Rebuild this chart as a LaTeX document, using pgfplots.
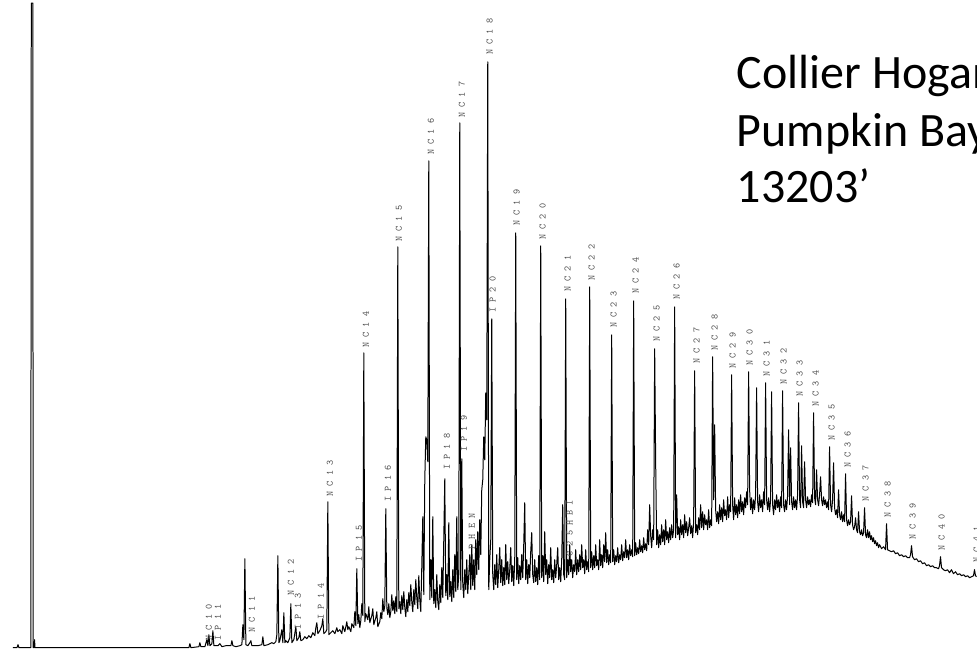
\documentclass[border=0pt]{standalone}
\usepackage{pgfplots}
\pgfplotsset{compat=1.18}
\usepackage{fontspec}
\newfontfamily\titlefont{Carlito}
\begin{document}
\begin{tikzpicture}
\path (0,0) rectangle (977pt,654pt);
\begin{axis}[
  at={(0,0)}, anchor=south west,
  scale only axis, width=977pt, height=654pt,
  xmin=0, xmax=977, ymin=0, ymax=654, y dir=reverse,
  hide axis, clip=false,
]
\addplot[black, line width=1pt, line join=round, mark=none] coordinates {
(13,648)(17,648)(18,645)(19,648)(30.8,648)(31.3,3)(32.8,3)(33.2,648)(34.2,648)(34.6,640)(35,648)(60,648)(100,648)(150,648)(185,648)(189,648)(190,644)(191,648)
(199,647)(200,643)(201,647)(205,647)(207,640)(208,646)(209,635)(210,646)(212,644)(213,631)(214,646)(218,646)(220,644)(222,647)(226,646)(231,646)(232,641)(233,646)(236,647)(240,646)(242,645)(243,625)(244,640)(245,559)(246,645)(248,646)(250,643)(251,641)(252,646)(255,646)(258,646)(262,645)(263,637)(264,646)(268,645)(270,644)(272,643)(274,644)(276,642)(277,635)(278,556)(279,643)(280,641)(282,630)(283,643)(284,613)(285,643)(286,641)(288,643)(290,638)(291,604)(292,643)(294,640)(296,627)(297,641)(299,638)(300,632)(301,641)(303,640)(305,637)(307,639)(309,636)(311,638)(313,633)(315,636)(316,628)(317,623)(318,634)(320,631)(322,626)(323,619)(324,634)(326,632)(327,630)(328,502)(329,635)(331,633)(333,631)(335,634)(337,628)(338,632)(340,630)(342,634)(343,626)(345,632)(347,622)(348,630)(349,627)(351,632)(352,624)(354,628)(355,612)(356,626)(357,569)(358,624)(359,615)(360,628)(361,621)(362,604)(363,616)(364,353)(365,622)(366,614)(368,620)(369,607)(370,623)(372,616)(373,609)(374,625)(376,618)(377,612)(378,627)(380,622)(381,613)(382,619)(383,599)(384,612)(385,606)(386,509)(387,608)(388,615)(389,604)(390,618)(391,612)(392,595)(393,611)(394,601)(395,614)(396,597)(397,612)(398,247)(399,609)(400,602)(401,614)(402,596)(403,610)(404,592)(405,608)(406,617)(407,600)(408,612)(409,593)(410,606)(411,585)(412,602)(413,612)(414,590)(415,605)(416,580)(417,598)(418,609)(419,576)(420,600)(421,612)(422,567)(423,517)(424,595)(425,480)(426,437)(427,440)(428,462)(429,161)(430,600)(431,560)(432,598)(433,517)(434,604)(435,590)(436,608)(437,575)(438,602)(439,610)(440,585)(441,603)(442,568)(443,598)(444,540)(445,479)(446,596)(447,575)(448,600)(449,523)(450,597)(451,582)(452,602)(453,570)(454,598)(455,555)(456,592)(457,517)(458,590)(459,575)(460,123)(461,590)(462,459)(463,585)(464,598)(465,570)(466,590)(467,560)(468,594)(469,575)(470,555)(471,590)(472,545)(473,586)(474,560)(475,590)(476,540)(477,575)(478,532)(479,570)(480,520)(481,555)(482,490)(483,480)(484,437)(485,460)(486,393)(487,420)(488,62)(489,590)(490,560)(491,540)(492,319)(493,575)(494,590)(495,565)(496,585)(497,555)(498,588)(499,570)(500,548)(501,583)(502,560)(503,586)(504,568)(505,585)(506,545)(507,580)(508,562)(509,584)(510,570)(511,548)(512,582)(513,566)(514,586)(515,560)(516,233)(517,580)(518,558)(519,584)(520,566)(521,580)(522,555)(523,578)(524,545)(525,503)(526,580)(527,560)(528,584)(529,565)(530,578)(531,552)(532,533)(533,575)(534,583)(535,560)(536,582)(537,568)(538,585)(539,556)(540,580)(541,246)(542,578)(543,556)(544,582)(545,532)(546,575)(547,560)(548,584)(549,565)(550,578)(551,548)(552,580)(553,570)(554,583)(555,560)(556,578)(557,565)(558,548)(559,580)(560,568)(561,582)(562,560)(563,505)(564,575)(565,580)(566,299)(567,578)(568,560)(569,575)(570,545)(571,572)(572,560)(573,578)(574,565)(575,572)(576,550)(577,575)(578,560)(579,572)(580,555)(581,570)(582,545)(583,568)(584,560)(585,574)(586,550)(587,570)(588,562)(589,572)(590,287)(591,568)(592,552)(593,570)(594,556)(595,568)(596,545)(597,566)(598,560)(599,570)(600,540)(601,566)(602,555)(603,568)(604,545)(605,562)(606,533)(607,563)(608,550)(609,565)(610,555)(611,563)(612,335)(613,562)(614,550)(615,565)(616,556)(617,562)(618,548)(619,563)(620,555)(621,560)(622,545)(623,561)(624,552)(625,558)(626,540)(627,558)(628,550)(629,560)(630,545)(631,556)(632,550)(633,557)(634,301)(635,556)(636,543)(637,555)(638,548)(639,554)(640,540)(641,552)(642,546)(643,553)(644,538)(645,550)(646,544)(647,551)(648,530)(649,545)(650,505)(651,536)(652,548)(653,530)(654,540)(655,349)(656,463)(657,545)(658,530)(659,548)(660,535)(661,545)(662,525)(663,542)(664,530)(665,545)(666,520)(667,540)(668,532)(669,543)(670,528)(671,540)(672,525)(673,538)(674,530)(675,307)(676,538)(677,495)(678,535)(679,527)(680,540)(681,520)(682,535)(683,525)(684,538)(685,515)(686,533)(687,522)(688,536)(689,528)(690,518)(691,534)(692,526)(693,538)(694,522)(695,371)(696,533)(697,525)(698,535)(699,518)(700,530)(701,505)(702,528)(703,512)(704,530)(705,515)(706,525)(707,520)(708,530)(709,510)(710,528)(711,520)(712,526)(713,357)(714,500)(715,425)(716,510)(717,522)(718,512)(719,524)(720,505)(721,520)(722,508)(723,522)(724,500)(725,516)(726,510)(727,520)(728,497)(729,518)(730,505)(731,512)(732,375)(733,505)(734,520)(735,498)(736,515)(737,505)(738,518)(739,500)(740,514)(741,495)(742,512)(743,502)(744,515)(745,498)(746,508)(747,492)(748,505)(749,372)(750,490)(751,510)(752,498)(753,514)(754,500)(755,510)(756,495)(757,388)(758,502)(759,512)(760,495)(761,508)(762,500)(763,512)(764,492)(765,505)(766,383)(767,500)(768,510)(769,498)(770,512)(771,500)(772,392)(773,505)(774,515)(775,500)(776,510)(777,495)(778,508)(779,500)(780,512)(781,497)(782,508)(783,391)(784,505)(785,512)(786,500)(787,510)(788,496)(789,430)(790,505)(791,448)(792,502)(793,510)(794,497)(795,508)(796,500)(797,510)(798,495)(799,403)(800,500)(801,508)(802,446)(803,502)(804,508)(805,462)(806,500)(807,508)(808,497)(809,505)(810,500)(811,507)(812,495)(813,503)(814,413)(815,498)(816,505)(817,470)(818,500)(819,506)(820,495)(821,477)(822,500)(823,506)(824,497)(825,505)(826,500)(827,508)(828,502)(829,510)(830,447)(831,505)(832,512)(833,500)(834,463)(835,508)(836,515)(837,510)(838,518)(839,490)(840,515)(841,520)(842,512)(843,522)(844,515)(845,522)(846,474)(847,520)(848,526)(849,520)(850,525)(851,522)(852,496)(853,525)(854,530)(855,527)(856,518)(857,530)(858,533)(859,512)(860,532)(861,535)(862,530)(863,536)(864,533)(865,508)(866,535)(867,538)(868,530)(869,538)(870,532)(871,540)(872,536)(873,542)(874,538)(875,544)(876,541)(877,546)(878,543)(879,548)(880,545)(882,549)(884,547)(886,550)(887,524)(888,550)(890,551)(892,552)(894,551)(896,554)(898,553)(900,556)(902,555)(904,557)(906,556)(908,558)(910,558)(911,555)(912,546)(913,557)(915,560)(917,559)(919,562)(921,561)(923,564)(925,563)(927,566)(929,565)(931,567)(933,566)(935,568)(937,568)(939,569)(940,566)(941,557)(942,568)(944,570)(946,571)(948,570)(950,573)(952,570)(954,574)(956,572)(958,575)(960,574)(962,576)(964,575)(966,577)(968,576)(970,578)(972,577)(974,576)(975,570)(976,576)(977,577)
};
\begin{scope}[every node/.style={rotate=90, anchor=west, inner sep=0pt, text=black!70, font=\ttfamily\fontsize{9.8}{10}\selectfont}]
\node at (axis cs:209,641) {N C 1 0};
\node at (axis cs:218,641) {I P 1 1};
\node at (axis cs:252,633) {N C 1 1};
\node at (axis cs:291,596) {N C 1 2};
\node at (axis cs:298,630) {I P 1 3};
\node at (axis cs:321,620) {I P 1 4};
\node at (axis cs:330,497) {N C 1 3};
\node at (axis cs:359,562) {I P 1 5};
\node at (axis cs:366,348) {N C 1 4};
\node at (axis cs:388,502) {I P 1 6};
\node at (axis cs:399,242) {N C 1 5};
\node at (axis cs:431,155) {N C 1 6};
\node at (axis cs:447,470) {I P 1 8};
\node at (axis cs:462,118) {N C 1 7};
\node at (axis cs:464,452) {I P 1 9};
\node at (axis cs:472,550) {P H E N};
\node at (axis cs:490,55) {N C 1 8};
\node at (axis cs:493,313) {I P 2 0};
\node at (axis cs:517,226) {N C 1 9};
\node at (axis cs:543,240) {N C 2 0};
\node at (axis cs:568,292) {N C 2 1};
\node at (axis cs:570,557) {C 2 5 H B I};
\node at (axis cs:592,281) {N C 2 2};
\node at (axis cs:614,328) {N C 2 3};
\node at (axis cs:636,294) {N C 2 4};
\node at (axis cs:657,342) {N C 2 5};
\node at (axis cs:677,300) {N C 2 6};
\node at (axis cs:697,364) {N C 2 7};
\node at (axis cs:715,351) {N C 2 8};
\node at (axis cs:733,369) {N C 2 9};
\node at (axis cs:750,366) {N C 3 0};
\node at (axis cs:767,377) {N C 3 1};
\node at (axis cs:784,385) {N C 3 2};
\node at (axis cs:800,397) {N C 3 3};
\node at (axis cs:816,407) {N C 3 4};
\node at (axis cs:832,441) {N C 3 5};
\node at (axis cs:848,468) {N C 3 6};
\node at (axis cs:866,502) {N C 3 7};
\node at (axis cs:888,518) {N C 3 8};
\node at (axis cs:913,540) {N C 3 9};
\node at (axis cs:942,551) {N C 4 0};
\node[overlay] at (axis cs:977,563) {N C 4 1};
\end{scope}
\begin{scope}[every node/.style={anchor=base west, inner sep=0pt, overlay, font=\titlefont\fontsize{48}{57}\selectfont}]
\node at (axis cs:737,89) {Collier Hogan};
\node at (axis cs:737,147) {Pumpkin Bay};
\node at (axis cs:737,203) {13203’};
\end{scope}
\end{axis}
\end{tikzpicture}
\end{document}
